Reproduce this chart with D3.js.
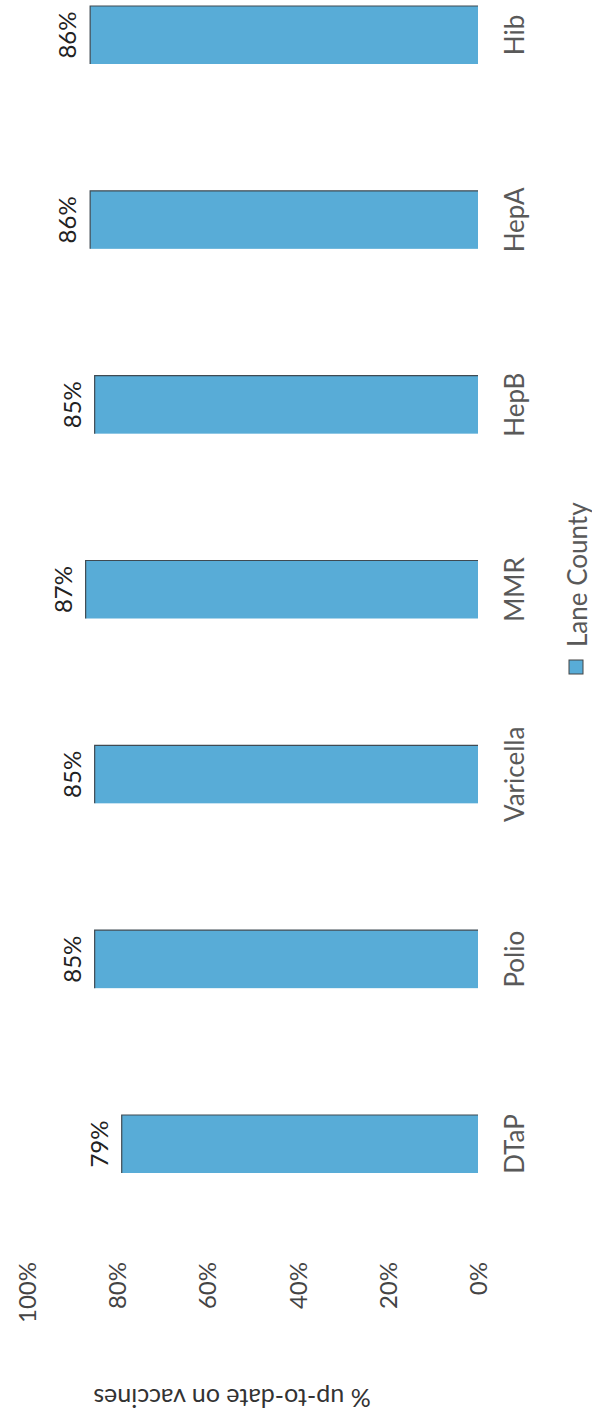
<!DOCTYPE html>
<html>
<head>
<meta charset="utf-8">
<script src="https://cdn.jsdelivr.net/npm/d3@7/dist/d3.min.js"></script>
<style>
  html, body { margin: 0; padding: 0; background: #fff; }
  svg { display: block; }
  text { font-family: Lato, "Open Sans", sans-serif; }
</style>
</head>
<body>
<svg id="chart" width="592" height="1421"></svg>
<script>
// ---- data ----
const categories = ["DTaP", "Polio", "Varicella", "MMR", "HepB", "HepA", "Hib"];
const laneCounty = [79, 85, 85, 87, 85, 86, 86];
const yTicks = [0, 20, 40, 60, 80, 100];
const seriesName = "Lane County";
const axisTitle = "% up-to-date on vaccines";

// ---- layout (original, unrotated chart: width 1421, height 592) ----
const W = 1421, H = 592;
const svg = d3.select("#chart");
// page is rotated 90° counter-clockwise
const g = svg.append("g").attr("transform", `translate(0,${W}) rotate(-90)`);

const x = d3.scalePoint().domain(categories).range([277, 1386]);
const y = d3.scaleLinear().domain([0, 100]).range([478, 27]);
const bw = 58;
const blue = "#58acd7";

// bars
g.selectAll("rect.bar")
  .data(categories)
  .join("rect")
  .attr("class", "bar")
  .attr("x", d => x(d) - bw / 2)
  .attr("width", bw)
  .attr("y", (d, i) => y(laneCounty[i]))
  .attr("height", (d, i) => y(0) - y(laneCounty[i]))
  .attr("fill", blue);

// dark edge on top and right side of bars (scan look)
g.selectAll("path.cap")
  .data(categories)
  .join("path")
  .attr("class", "cap")
  .attr("d", (d, i) => {
    const yt = y(laneCounty[i]);
    return `M${x(d) - bw / 2},${yt} L${x(d) + bw / 2},${yt} L${x(d) + bw / 2},${y(0)}`;
  })
  .attr("fill", "none")
  .attr("stroke", "#3f4a52")
  .attr("stroke-width", 1.2);

// value labels
g.selectAll("text.val")
  .data(categories)
  .join("text")
  .attr("class", "val")
  .attr("x", d => x(d))
  .attr("y", (d, i) => y(laneCounty[i]) - 14)
  .attr("text-anchor", "middle")
  .attr("font-size", 24)
  .attr("fill", "#222")
  .text((d, i) => laneCounty[i] + "%");

// category axis labels
g.selectAll("text.cat")
  .data(categories)
  .join("text")
  .attr("class", "cat")
  .attr("x", d => x(d))
  .attr("y", 524)
  .attr("text-anchor", "middle")
  .attr("font-size", 26)
  .attr("fill", "#595959")
  .text(d => d);

// value axis tick labels
const yAxis = d3.axisLeft(y).tickValues(yTicks).tickSize(0).tickPadding(0)
  .tickFormat(d => d + "%");
const ya = g.append("g").attr("transform", "translate(159,0)").call(yAxis);
ya.select(".domain").remove();
ya.selectAll("text")
  .attr("font-family", "Lato, sans-serif")
  .attr("font-size", 24)
  .attr("fill", "#444")
  .attr("dy", "0.35em");

// axis title
g.append("text")
  .attr("transform", `translate(23,${232}) rotate(-90)`)
  .attr("text-anchor", "middle")
  .attr("dy", "0.35em")
  .attr("font-size", 25)
  .attr("fill", "#333")
  .text(axisTitle);

// legend
const lg = g.append("g");
lg.append("rect")
  .attr("x", 747).attr("y", 569)
  .attr("width", 14).attr("height", 14)
  .attr("fill", blue).attr("stroke", "#444").attr("stroke-width", 1);
lg.append("text")
  .attr("x", 774).attr("y", 587)
  .attr("font-size", 26)
  .attr("fill", "#595959")
  .text(seriesName);
</script>
</body>
</html>
